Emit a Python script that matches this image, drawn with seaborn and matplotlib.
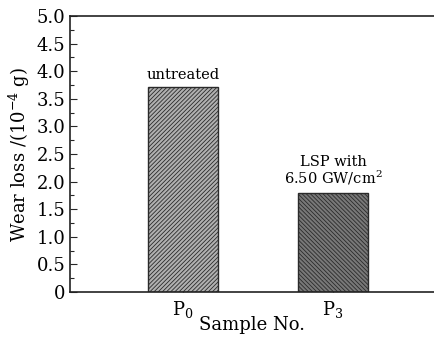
import matplotlib
matplotlib.use("Agg")
import matplotlib.pyplot as plt
import seaborn as sns
import pandas as pd
from matplotlib.ticker import MultipleLocator

samples = ["P$_0$", "P$_3$"]
wear_loss = [3.71, 1.80]
annotations = ["untreated", "LSP with\n6.50 GW/cm$^2$"]
ytick_labels = ["0", "0.5", "1.0", "1.5", "2.0", "2.5", "3.0", "3.5", "4.0", "4.5", "5.0"]

sns.set_style("ticks")
plt.rcParams["font.family"] = ["DejaVu Serif"]
plt.rcParams["mathtext.fontset"] = "dejavuserif"
plt.rcParams["hatch.linewidth"] = 0.6
plt.rcParams["text.color"] = "black"

df = pd.DataFrame({"sample": samples, "loss": wear_loss})

fig = plt.figure(figsize=(4.35, 3.39), dpi=100)
ax = fig.add_axes([70/435, 47/339, 1 - 70/435, (292-16)/339])

sns.barplot(data=df, x="sample", y="loss", hue="sample", ax=ax, width=0.47,
            palette=["#b0b0b0", "#787878"], legend=False, edgecolor="#222222",
            linewidth=1.0, saturation=1)

hatches = ["////////", "\\\\\\\\\\\\\\\\"]
for patch, h in zip(ax.patches, hatches):
    patch.set_hatch(h)
    patch.set_edgecolor("#2a2a2a")

ax.set_xlim(-0.753, 1.68)
ax.set_ylim(0, 5.0)
ax.yaxis.set_minor_locator(MultipleLocator(0.25))
ax.set_yticks([i * 0.5 for i in range(11)])
ax.set_yticklabels(ytick_labels)

ax.tick_params(axis="both", which="both", direction="in", labelsize=13, labelcolor="black")
ax.tick_params(axis="y", which="major", length=5, width=0.8)
ax.tick_params(axis="y", which="minor", length=3, width=0.8)
ax.tick_params(axis="x", which="major", length=5, width=0.8, pad=5)

for s in ["left", "bottom", "top"]:
    ax.spines[s].set_linewidth(1.2)
    ax.spines[s].set_color("#222222")
ax.spines["right"].set_visible(False)

ax.set_xlabel("Sample No.", fontsize=13, labelpad=-3, color="black")
ax.set_ylabel("Wear loss /(10$^{-4}$ g)", fontsize=13, labelpad=3, color="black")

for i, (v, t) in enumerate(zip(wear_loss, annotations)):
    ax.text(i, v + 0.1, t, ha="center", va="bottom", fontsize=10.5, linespacing=1.0,
            color="black")

fig.savefig("out.png", dpi=100)
